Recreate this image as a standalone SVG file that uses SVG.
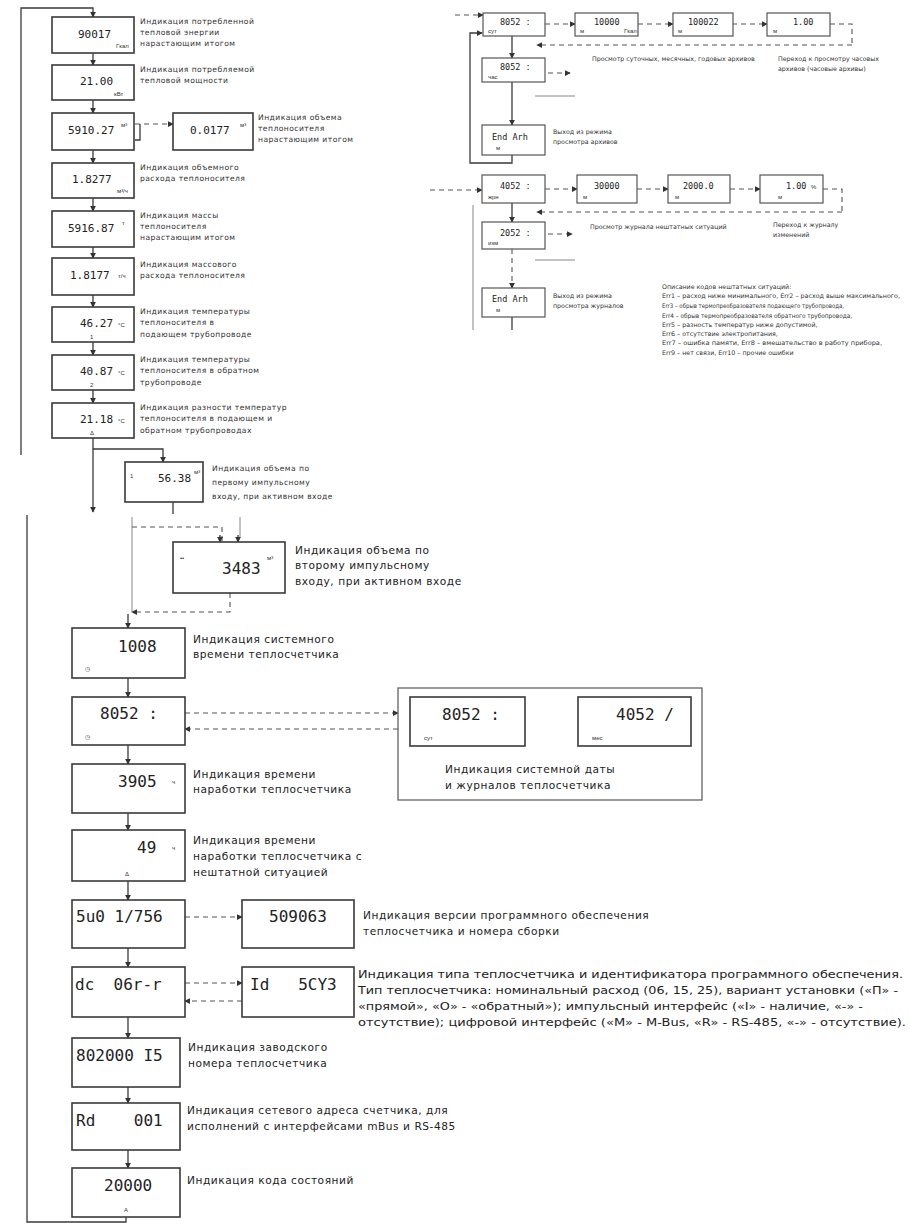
<svg xmlns="http://www.w3.org/2000/svg" width="910" height="1223" viewBox="0 0 910 1223">
<style>
.bg{fill:#fff}
.box{fill:#fff;stroke:#3a3a3a;stroke-width:1.6}
.sbox{fill:#fff;stroke:#555;stroke-width:1.2}
.ln{stroke:#3a3a3a;stroke-width:1.3;fill:none}
.dl{stroke:#555;stroke-width:1.1;fill:none;stroke-dasharray:5 4}
.lg{stroke:#888;stroke-width:1;fill:none}
.lcd{font-family:"DejaVu Sans Mono","Liberation Mono",monospace;fill:#222;white-space:pre}
.l1{font-size:11px}
.l2{font-size:16px}
.l3{font-size:8.5px}
.sub{font-family:"Liberation Sans",sans-serif;font-size:6px;fill:#333}
.t7{font-family:"DejaVu Sans","Liberation Sans",sans-serif;font-size:7.6px;letter-spacing:0.45px;fill:#333}
.t6{font-family:"DejaVu Sans","Liberation Sans",sans-serif;font-size:6.3px;fill:#333}
.t10{font-family:"DejaVu Sans","Liberation Sans",sans-serif;font-size:10.6px;letter-spacing:0.55px;fill:#222}
.t9{font-family:"DejaVu Sans","Liberation Sans",sans-serif;font-size:10px;fill:#222}
</style>
<defs>
<marker id="ar" viewBox="0 0 8 8" refX="7" refY="4" markerWidth="6" markerHeight="6" markerUnits="userSpaceOnUse" orient="auto"><path d="M0,0 L8,4 L0,8 z" fill="#333"/></marker>
</defs>
<rect class="bg" width="910" height="1223"/>

<g id="connectors">
<path class="ln" d="M21,455 V8 H93 V17" marker-end="url(#ar)"/>
<path class="ln" d="M93,53 V65" marker-end="url(#ar)"/>
<path class="ln" d="M93,100 V113" marker-end="url(#ar)"/>
<path class="ln" d="M93,150 V163" marker-end="url(#ar)"/>
<path class="ln" d="M93,198 V211" marker-end="url(#ar)"/>
<path class="ln" d="M93,247 V258" marker-end="url(#ar)"/>
<path class="ln" d="M93,295 V307" marker-end="url(#ar)"/>
<path class="ln" d="M93,342 V355" marker-end="url(#ar)"/>
<path class="ln" d="M93,390 V403" marker-end="url(#ar)"/>
<path class="dl" d="M135,124 H173" marker-end="url(#ar)"/>
<path class="ln" d="M140,124 V140 H135"/>
<path class="ln" d="M93,438 V449 H163 V462" marker-end="url(#ar)"/>
<path class="ln" d="M93,449 V512" marker-end="url(#ar)"/>
<path class="ln" d="M173,502 V514"/>
<path class="ln" d="M126,1217 V1222 H27 V515"/>
<path class="lg" d="M132,517 V612"/>
<path class="lg" d="M240,517 V537"/>
<path class="dl" d="M132,527 H222 V542"/>
<path class="ln" d="M220,535 V542" marker-end="url(#ar)"/>
<path class="ln" d="M238,535 V542" marker-end="url(#ar)"/>
<path class="dl" d="M230,593 V612 H132" marker-end="url(#ar)"/>
<path class="ln" d="M128,614 V628" marker-end="url(#ar)"/>
<path class="ln" d="M128,678 V697" marker-end="url(#ar)"/>
<path class="dl" d="M185,713 H398" marker-end="url(#ar)"/>
<path class="dl" d="M398,729 H185" marker-end="url(#ar)"/>
<path class="ln" d="M128,745 V764" marker-end="url(#ar)"/>
<path class="ln" d="M128,813 V830" marker-end="url(#ar)"/>
<path class="ln" d="M128,881 V900" marker-end="url(#ar)"/>
<path class="dl" d="M185,917 H242" marker-end="url(#ar)"/>
<path class="ln" d="M128,948 V967" marker-end="url(#ar)"/>
<path class="dl" d="M185,983 H242" marker-end="url(#ar)"/>
<path class="dl" d="M242,1001 H185" marker-end="url(#ar)"/>
<path class="ln" d="M128,1017 V1038" marker-end="url(#ar)"/>
<path class="ln" d="M128,1087 V1103" marker-end="url(#ar)"/>
<path class="ln" d="M128,1150 V1168" marker-end="url(#ar)"/>
<path class="ln" d="M427,778 V746" marker-end="url(#ar)"/>
<path class="dl" d="M447,746 V776" marker-end="url(#ar)"/>
<path class="ln" d="M487,778 V746" marker-end="url(#ar)"/>
<path class="ln" d="M507,746 V776" marker-end="url(#ar)"/>
<path class="dl" d="M594,778 V746" marker-end="url(#ar)"/>
<path class="ln" d="M614,746 V776" marker-end="url(#ar)"/>
<path class="dl" d="M654,778 V746" marker-end="url(#ar)"/>
<path class="ln" d="M673,746 V778" marker-end="url(#ar)"/>
<path class="dl" d="M455,15 H483" marker-end="url(#ar)"/>
<path class="dl" d="M545,24 H575" marker-end="url(#ar)"/>
<path class="dl" d="M638,24 H673" marker-end="url(#ar)"/>
<path class="dl" d="M732,24 H767" marker-end="url(#ar)"/>
<path class="dl" d="M830,24 H852 V45"/>
<path class="dl" d="M852,45 H537" marker-end="url(#ar)"/>
<path class="ln" d="M512,36 V58" marker-end="url(#ar)"/>
<path class="dl" d="M548,73 H570" marker-end="url(#ar)"/>
<path class="lg" d="M535,96 H575"/>
<path class="ln" d="M512,82 V125" marker-end="url(#ar)"/>
<path class="ln" d="M512,155 V163 H470 V33 H482" marker-end="url(#ar)"/>
<path class="dl" d="M430,190 H482" marker-end="url(#ar)"/>
<path class="dl" d="M545,189 H577" marker-end="url(#ar)"/>
<path class="dl" d="M637,189 H668" marker-end="url(#ar)"/>
<path class="dl" d="M730,189 H760" marker-end="url(#ar)"/>
<path class="dl" d="M823,189 H842 V212"/>
<path class="dl" d="M842,212 H537" marker-end="url(#ar)"/>
<path class="ln" d="M512,203 V222" marker-end="url(#ar)"/>
<path class="dl" d="M548,234 H572" marker-end="url(#ar)"/>
<path class="lg" d="M535,260 H575"/>
<path class="lg" d="M473,205 V330"/>
<path class="dl" d="M512,249 V288" marker-end="url(#ar)"/>
<path class="ln" d="M512,317 V330"/>
</g>

<g id="n1"><rect class="box" x="52" y="17" width="82" height="36"/><text class="lcd l1" x="78" y="38">90017</text><text class="sub" x="116" y="48">Гкал</text>
<text class="t7" x="140" y="24">Индикация потребленной</text><text class="t7" x="140" y="35">тепловой энергии</text><text class="t7" x="140" y="46">нарастающим итогом</text></g>
<g id="n2"><rect class="box" x="52" y="65" width="82" height="35"/><text class="lcd l1" x="80" y="85">21.00</text><text class="sub" x="114" y="96">кВт</text>
<text class="t7" x="140" y="72">Индикация потребляемой</text><text class="t7" x="140" y="83">тепловой мощности</text></g>
<g id="n3"><rect class="box" x="52" y="113" width="82" height="37"/><text class="lcd l1" x="68" y="134">5910.27</text><text class="sub" x="121" y="127">м³</text></g>
<g id="n3b"><rect class="box" x="173" y="113" width="80" height="37"/><text class="lcd l1" x="190" y="134">0.0177</text><text class="sub" x="240" y="127">м³</text>
<text class="t7" x="258" y="120">Индикация объема</text><text class="t7" x="258" y="131">теплоносителя</text><text class="t7" x="258" y="142">нарастающим итогом</text></g>
<g id="n4"><rect class="box" x="52" y="163" width="82" height="35"/><text class="lcd l1" x="72" y="183">1.8277</text><text class="sub" x="117" y="193">м³/ч</text>
<text class="t7" x="140" y="170">Индикация объемного</text><text class="t7" x="140" y="181">расхода теплоносителя</text></g>
<g id="n5"><rect class="box" x="52" y="211" width="82" height="36"/><text class="lcd l1" x="68" y="232">5916.87</text><text class="sub" x="122" y="225">т</text>
<text class="t7" x="140" y="218">Индикация массы</text><text class="t7" x="140" y="229">теплоносителя</text><text class="t7" x="140" y="240">нарастающим итогом</text></g>
<g id="n6"><rect class="box" x="52" y="258" width="82" height="37"/><text class="lcd l1" x="70" y="279">1.8177</text><text class="sub" x="118" y="278">т/ч</text>
<text class="t7" x="140" y="267">Индикация массового</text><text class="t7" x="140" y="278">расхода теплоносителя</text></g>
<g id="n7"><rect class="box" x="52" y="307" width="82" height="35"/><text class="lcd l1" x="80" y="327">46.27</text><text class="sub" x="118" y="327">°C</text><text class="sub" x="90" y="339">1</text>
<text class="t7" x="140" y="314">Индикация температуры</text><text class="t7" x="140" y="325">теплоносителя в</text><text class="t7" x="140" y="337">подающем трубопроводе</text></g>
<g id="n8"><rect class="box" x="52" y="355" width="82" height="35"/><text class="lcd l1" x="80" y="375">40.87</text><text class="sub" x="118" y="375">°C</text><text class="sub" x="90" y="387">2</text>
<text class="t7" x="140" y="362">Индикация температуры</text><text class="t7" x="140" y="373">теплоносителя в обратном</text><text class="t7" x="140" y="385">трубопроводе</text></g>
<g id="n9"><rect class="box" x="52" y="403" width="82" height="35"/><text class="lcd l1" x="80" y="423">21.18</text><text class="sub" x="118" y="423">°C</text><text class="sub" x="90" y="435">Δ</text>
<text class="t7" x="140" y="410">Индикация разности температур</text><text class="t7" x="140" y="421">теплоносителя в подающем и</text><text class="t7" x="140" y="433">обратном трубопроводах</text></g>
<g id="n10"><rect class="box" x="125" y="462" width="78" height="40"/><text class="sub" x="130" y="478">1</text><text class="lcd l1" x="158" y="482">56.38</text><text class="sub" x="194" y="474">м³</text>
<text class="t7" x="212" y="471">Индикация объема по</text><text class="t7" x="212" y="485">первому импульсному</text><text class="t7" x="212" y="499">входу, при активном входе</text></g>

<g id="n11"><rect class="box" x="173" y="542" width="112" height="51"/><text class="sub" x="180" y="560">••</text><text class="lcd l2" x="222" y="574">3483</text><text class="sub" x="267" y="560">м³</text>
<text class="t10" x="295" y="554">Индикация объема по</text><text class="t10" x="295" y="569">второму импульсному</text><text class="t10" x="295" y="585">входу, при активном входе</text></g>
<g id="n12"><rect class="box" x="72" y="628" width="113" height="50"/><text class="lcd l2" x="118" y="652">1008</text><text class="sub" x="85" y="671">◷</text>
<text class="t10" x="193" y="643">Индикация системного</text><text class="t10" x="193" y="658">времени теплосчетчика</text></g>
<g id="n13"><rect class="box" x="72" y="697" width="113" height="48"/><text class="lcd l2" x="100" y="719">8052 :</text><text class="sub" x="85" y="739">◷</text></g>
<g id="n13b"><rect class="sbox" x="398" y="688" width="304" height="112"/>
<rect class="box" x="410" y="697" width="115" height="49"/><text class="lcd l2" x="442" y="720">8052 :</text><text class="sub" x="424" y="740">сут</text>
<rect class="box" x="578" y="697" width="113" height="49"/><text class="lcd l2" x="616" y="720">4052 /</text><text class="sub" x="592" y="740">мес</text>
<text class="t10" x="445" y="773">Индикация системной даты</text><text class="t10" x="445" y="789">и журналов теплосчетчика</text></g>
<g id="n14"><rect class="box" x="72" y="764" width="113" height="49"/><text class="lcd l2" x="118" y="787">3905</text><text class="sub" x="172" y="784">ч</text>
<text class="t10" x="193" y="778">Индикация времени</text><text class="t10" x="193" y="793">наработки теплосчетчика</text></g>
<g id="n15"><rect class="box" x="72" y="830" width="113" height="51"/><text class="lcd l2" x="137" y="853">49</text><text class="sub" x="172" y="850">ч</text><text class="sub" x="125" y="876">Δ</text>
<text class="t10" x="193" y="844">Индикация времени</text><text class="t10" x="193" y="860">наработки теплосчетчика с</text><text class="t10" x="193" y="876">нештатной ситуацией</text></g>
<g id="n16"><rect class="box" x="72" y="900" width="113" height="48"/><text class="lcd l2" x="76" y="922">5u0 1/756</text></g>
<g id="n16b"><rect class="box" x="242" y="900" width="112" height="48"/><text class="lcd l2" x="269" y="922">509063</text>
<text class="t10" x="363" y="919">Индикация версии программного обеспечения</text><text class="t10" x="363" y="935">теплосчетчика и номера сборки</text></g>
<g id="n17"><rect class="box" x="72" y="967" width="113" height="50"/><text class="lcd l2" x="75" y="990">dc  06r-r</text></g>
<g id="n17b"><rect class="box" x="242" y="967" width="112" height="50"/><text class="lcd l2" x="250" y="990">Id   5CY3</text>
<text class="t9" x="358" y="978" textLength="545" lengthAdjust="spacingAndGlyphs">Индикация типа теплосчетчика и идентификатора программного обеспечения.</text>
<text class="t9" x="358" y="994" textLength="540" lengthAdjust="spacingAndGlyphs">Тип теплосчетчика: номинальный расход (06, 15, 25), вариант установки («П» -</text>
<text class="t9" x="358" y="1010" textLength="505" lengthAdjust="spacingAndGlyphs">«прямой», «О» - «обратный»); импульсный интерфейс («I» - наличие, «-» -</text>
<text class="t9" x="358" y="1026" textLength="548" lengthAdjust="spacingAndGlyphs">отсутствие); цифровой интерфейс («M» - M-Bus, «R» - RS-485, «-» - отсутствие).</text></g>
<g id="n18"><rect class="box" x="72" y="1038" width="108" height="49"/><text class="lcd l2" x="76" y="1061">802000 I5</text>
<text class="t10" x="188" y="1051">Индикация заводского</text><text class="t10" x="188" y="1067">номера теплосчетчика</text></g>
<g id="n19"><rect class="box" x="72" y="1103" width="108" height="47"/><text class="lcd l2" x="76" y="1126">Rd    001</text>
<text class="t10" x="187" y="1114">Индикация сетевого адреса счетчика, для</text><text class="t10" x="187" y="1130">исполнений с интерфейсами mBus и RS-485</text></g>
<g id="n20"><rect class="box" x="72" y="1168" width="108" height="49"/><text class="lcd l2" x="104" y="1191">20000</text><text class="sub" x="124" y="1212">A</text>
<text class="t10" x="187" y="1184">Индикация кода состояний</text></g>

<g id="a1"><rect class="sbox" x="483" y="13" width="62" height="23"/><text class="lcd l3" x="500" y="25">8052 :</text><text class="sub" x="488" y="33">сут</text></g>
<g id="a2"><rect class="sbox" x="575" y="13" width="63" height="23"/><text class="lcd l3" x="594" y="25">10000</text><text class="sub" x="580" y="33">м</text><text class="sub" x="624" y="33">Гкал</text></g>
<g id="a3"><rect class="sbox" x="673" y="13" width="60" height="23"/><text class="lcd l3" x="688" y="25">100022</text><text class="sub" x="678" y="33">м</text></g>
<g id="a4"><rect class="sbox" x="767" y="13" width="63" height="23"/><text class="lcd l3" x="793" y="25">1.00</text><text class="sub" x="773" y="33">м</text></g>
<g id="a-txt"><text class="t6" x="592" y="61">Просмотр суточных, месячных, годовых архивов</text>
<text class="t6" x="778" y="61">Переход к просмотру часовых</text><text class="t6" x="778" y="71">архивов (часовые архивы)</text></g>
<g id="a5"><rect class="sbox" x="482" y="58" width="63" height="24"/><text class="lcd l3" x="500" y="70">8052 :</text><text class="sub" x="488" y="79">час</text></g>
<g id="a6"><rect class="sbox" x="482" y="125" width="63" height="30"/><text class="lcd l3" x="492" y="140">End Arh</text><text class="sub" x="496" y="150">м</text>
<text class="t6" x="553" y="134">Выход из режима</text><text class="t6" x="553" y="144">просмотра архивов</text></g>

<g id="j1"><rect class="sbox" x="482" y="175" width="63" height="28"/><text class="lcd l3" x="500" y="189">4052 :</text><text class="sub" x="488" y="199">жрн</text></g>
<g id="j2"><rect class="sbox" x="577" y="175" width="60" height="28"/><text class="lcd l3" x="594" y="189">30000</text><text class="sub" x="583" y="199">м</text></g>
<g id="j3"><rect class="sbox" x="668" y="175" width="62" height="28"/><text class="lcd l3" x="683" y="189">2000.0</text><text class="sub" x="675" y="199">м</text></g>
<g id="j4"><rect class="sbox" x="760" y="175" width="63" height="28"/><text class="lcd l3" x="786" y="189">1.00</text><text class="sub" x="811" y="189">%</text><text class="sub" x="778" y="199">м</text></g>
<g id="j-txt"><text class="t6" x="590" y="229">Просмотр журнала нештатных ситуаций</text>
<text class="t6" x="773" y="227">Переход к журналу</text><text class="t6" x="773" y="237">изменений</text></g>
<g id="j5"><rect class="sbox" x="482" y="222" width="63" height="27"/><text class="lcd l3" x="500" y="236">2052 :</text><text class="sub" x="488" y="245">изм</text></g>
<g id="j6"><rect class="sbox" x="482" y="288" width="63" height="29"/><text class="lcd l3" x="492" y="302">End Arh</text><text class="sub" x="496" y="312">м</text>
<text class="t6" x="553" y="298">Выход из режима</text><text class="t6" x="553" y="308">просмотра журналов</text></g>
<g id="note">
<text class="t6" x="662" y="289">Описание кодов нештатных ситуаций:</text>
<text class="t6" x="662" y="298" textLength="238" lengthAdjust="spacingAndGlyphs">Err1 – расход ниже минимального, Err2 – расход выше максимального,</text>
<text class="t6" x="662" y="308" textLength="182" lengthAdjust="spacingAndGlyphs">Err3 – обрыв термопреобразователя подающего трубопровода,</text>
<text class="t6" x="662" y="318" textLength="190" lengthAdjust="spacingAndGlyphs">Err4 – обрыв термопреобразователя обратного трубопровода,</text>
<text class="t6" x="662" y="327">Err5 – разность температур ниже допустимой,</text>
<text class="t6" x="662" y="336">Err6 – отсутствие электропитания,</text>
<text class="t6" x="662" y="345" textLength="220" lengthAdjust="spacingAndGlyphs">Err7 – ошибка памяти, Err8 – вмешательство в работу прибора,</text>
<text class="t6" x="662" y="355">Err9 – нет связи, Err10 – прочие ошибки</text>
</g>
</svg>
